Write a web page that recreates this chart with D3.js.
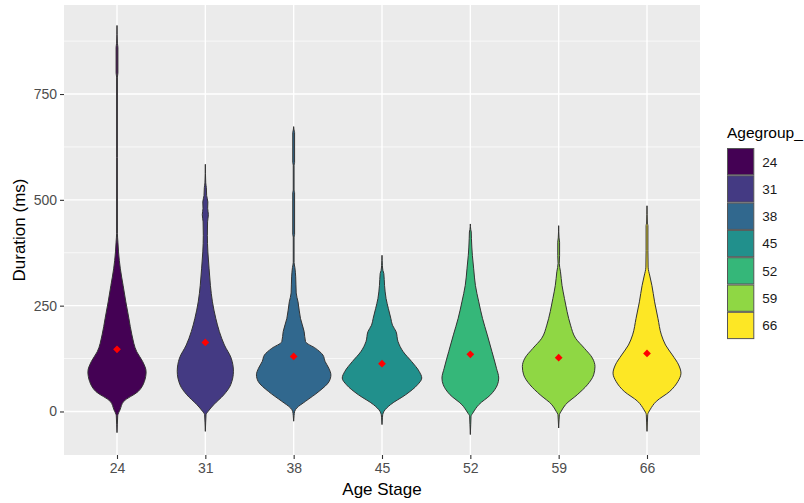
<!DOCTYPE html>
<html>
<head>
<meta charset="utf-8">
<script src="https://cdn.jsdelivr.net/npm/d3@7/dist/d3.min.js"></script>
<style>
  html, body { margin: 0; padding: 0; background: #fff; }
  svg { display: block; font-family: "Liberation Sans", Arial, sans-serif; }
</style>
</head>
<body>
<svg id="chart" width="804" height="503"></svg>
<script>
// Age groups shown on the x axis and in the legend
const ageGroups = ["24", "31", "38", "45", "52", "59", "66"];

// Mean duration (ms) per group, drawn as red diamonds
const meanDuration = [147, 163, 130, 113, 135, 127, 137];

// Kernel density profiles per group: [duration (ms), relative density]
const profile24 = [[-50,0],[-30,0.35],[-10,0.7],[4,3],[24,6.7],[47,20.8],[71,27],[94,28.7],[118,25.3],[141,19.5],[181,14.7],[220,11.7],[259,8.7],[298,6],[337,3.3],[377,1.5],[400,0.9],[420,0.4],[600,0.35],[790,0.4],[800,0.9],[860,0.9],[870,0.4],[912,0]];
const profile31 = [[-47,0],[-25,0.35],[-7.5,0.7],[0.5,2.8],[16,8.3],[39.5,18.3],[63,25],[95,27.7],[126,25.5],[157,18.8],[189,13.8],[220,10.3],[259,7],[298,5],[337,3.7],[377,2.5],[416,2],[448,2.2],[465,3],[480,2.3],[495,2.5],[510,1.3],[529,1],[540,0.4],[584,0]];
const profile38 = [[-23,0],[-10,0.4],[0.5,1],[8,3],[24,11.7],[47.5,25],[71,35],[86.5,36.7],[102,34.7],[118,31],[133.5,28.8],[149,21.7],[165,11.7],[189,10.3],[220,6.7],[259,4.3],[280,2.5],[318,2],[340,1.2],[352,0.4],[412,0.4],[418,0.9],[517,0.9],[523,0.4],[582,0.4],[588,0.9],[659,0.9],[665,0.35],[673,0]];
const profile45 = [[-31,0],[-15,0.4],[-7.5,0.7],[0.5,2],[16,8.3],[39.5,23.3],[63,35],[79,39.2],[94.5,36.7],[118,29.2],[141.5,20.8],[165,15.8],[189,13.8],[204,10.3],[220,8.7],[243,6.3],[267,4],[298,2.5],[326,1.8],[333,0.9],[345,0.4],[369,0]];
const profile52 = [[-54.5,0],[-30,0.4],[-11,0.7],[-3.5,2.5],[16,8.3],[39.5,20],[63,26.7],[79,28],[102,25.8],[141.5,21.3],[181,16.7],[220,12],[259,8.3],[298,5],[337,3.3],[369,2],[408,1.1],[424,0.9],[430,0.4],[443,0]];
const profile59 = [[-39,0],[-20,0.4],[-7.5,0.7],[0.5,2.5],[16,6.7],[39.5,18.3],[63,28.3],[86.5,34.5],[106,35.8],[126,33.3],[149,25.5],[173,16.7],[204,11.7],[236,8.3],[267,5.7],[298,3.3],[330,1.8],[350,0.6],[368,0.9],[400,0.9],[410,0.4],[439,0]];
const profile66 = [[-47,0],[-25,0.4],[-7.5,0.7],[4,3],[24,9.2],[47.5,22.5],[71,30.5],[90.5,33.5],[110,31.2],[133.5,25],[157,18.3],[181,14.2],[220,10.8],[259,7.5],[298,4.8],[320,2.8],[341,1.1],[380,0.9],[439,0.9],[445,0.4],[486,0]];
const profiles = [profile24, profile31, profile38, profile45, profile52, profile59, profile66];

// Viridis palette, one colour per group
const groupColors = ["#440154", "#443A83", "#31688E", "#21908C", "#35B779", "#8FD744", "#FDE725"];

// Axis breaks
const yMajorTicks = [0, 250, 500, 750];
const yMinorTicks = [125, 375, 625, 875];

const svg = d3.select("#chart");
const panel = { left: 64, right: 700, top: 5, bottom: 455 };

// Data range of the y axis, expanded by 5% on both ends
const yMin = d3.min(profiles, p => d3.min(p, d => d[0]));
const yMax = d3.max(profiles, p => d3.max(p, d => d[0]));
const yPad = (yMax - yMin) * 0.05;

const y = d3.scaleLinear()
  .domain([yMin - yPad, yMax + yPad])
  .range([panel.bottom, panel.top]);

const x = d3.scalePoint()
  .domain(ageGroups)
  .range([panel.left, panel.right])
  .padding(0.6);

const maxDensity = d3.max(profiles, p => d3.max(p, d => d[1]));
const halfWidth = d3.scaleLinear()
  .domain([0, maxDensity])
  .range([0, x.step() * 0.45]);

// Panel background and grid
svg.append("rect")
  .attr("x", panel.left).attr("y", panel.top)
  .attr("width", panel.right - panel.left)
  .attr("height", panel.bottom - panel.top)
  .attr("fill", "#EBEBEB");

const grid = svg.append("g");
grid.selectAll(".minor").data(yMinorTicks).join("line")
  .attr("x1", panel.left).attr("x2", panel.right)
  .attr("y1", d => y(d)).attr("y2", d => y(d))
  .attr("stroke", "#fff").attr("stroke-width", 0.7);
grid.selectAll(".major").data(yMajorTicks).join("line")
  .attr("x1", panel.left).attr("x2", panel.right)
  .attr("y1", d => y(d)).attr("y2", d => y(d))
  .attr("stroke", "#fff").attr("stroke-width", 1.4);
grid.selectAll(".vmajor").data(ageGroups).join("line")
  .attr("x1", d => x(d)).attr("x2", d => x(d))
  .attr("y1", panel.top).attr("y2", panel.bottom)
  .attr("stroke", "#fff").attr("stroke-width", 1.4);

// Violins
const violinArea = (cx) => d3.area()
  .curve(d3.curveMonotoneY)
  .y(d => y(d[0]))
  .x0(d => cx - halfWidth(d[1]))
  .x1(d => cx + halfWidth(d[1]));

svg.append("g").selectAll("path").data(profiles).join("path")
  .attr("d", (p, i) => violinArea(x(ageGroups[i]))(p))
  .attr("fill", (p, i) => groupColors[i])
  .attr("stroke", "#333")
  .attr("stroke-width", 1)
  .attr("stroke-linejoin", "round");

// Group means
svg.append("g").selectAll("path").data(meanDuration).join("path")
  .attr("d", d3.symbol(d3.symbolSquare, 30))
  .attr("transform", (d, i) => `translate(${x(ageGroups[i])},${y(d)}) rotate(45)`)
  .attr("fill", "#FF0000");

// Axes
const yAxis = d3.axisLeft(y).tickValues(yMajorTicks).tickSize(4).tickPadding(3);
const xAxis = d3.axisBottom(x).tickSize(4).tickPadding(4);

const gy = svg.append("g").attr("transform", `translate(${panel.left},0)`).call(yAxis);
const gx = svg.append("g").attr("transform", `translate(0,${panel.bottom})`).call(xAxis);
[gy, gx].forEach(g => {
  g.select(".domain").remove();
  g.selectAll(".tick line").attr("stroke", "#333").attr("stroke-width", 1.1);
  g.selectAll(".tick text")
    .attr("fill", "#4D4D4D")
    .style("font-size", "14px")
    .style("font-family", "'Liberation Sans', Arial, sans-serif");
});

// Axis titles
svg.append("text")
  .attr("x", (panel.left + panel.right) / 2)
  .attr("y", 495)
  .attr("text-anchor", "middle")
  .style("font-size", "17px")
  .attr("fill", "#000")
  .text("Age Stage");

svg.append("text")
  .attr("transform", `translate(25,${(panel.top + panel.bottom) / 2}) rotate(-90)`)
  .attr("text-anchor", "middle")
  .style("font-size", "17px")
  .attr("fill", "#000")
  .text("Duration (ms)");

// Legend
const legend = svg.append("g").attr("transform", "translate(727,0)");
legend.append("text")
  .attr("x", 0).attr("y", 138)
  .style("font-size", "15.5px")
  .attr("fill", "#000")
  .text("Agegroup_");

const keySize = 27.3;
const keys = legend.selectAll(".key").data(ageGroups).join("g")
  .attr("transform", (d, i) => `translate(0,${148 + i * keySize})`);
keys.append("rect")
  .attr("x", 0.5).attr("y", 0.5)
  .attr("width", keySize - 1).attr("height", keySize - 1)
  .attr("fill", (d, i) => groupColors[i])
  .attr("stroke", "#555")
  .attr("stroke-width", 1);
keys.append("text")
  .attr("x", keySize + 8)
  .attr("y", keySize / 2)
  .attr("dy", "0.36em")
  .style("font-size", "13.5px")
  .attr("fill", "#1A1A1A")
  .text(d => d);
</script>
</body>
</html>
